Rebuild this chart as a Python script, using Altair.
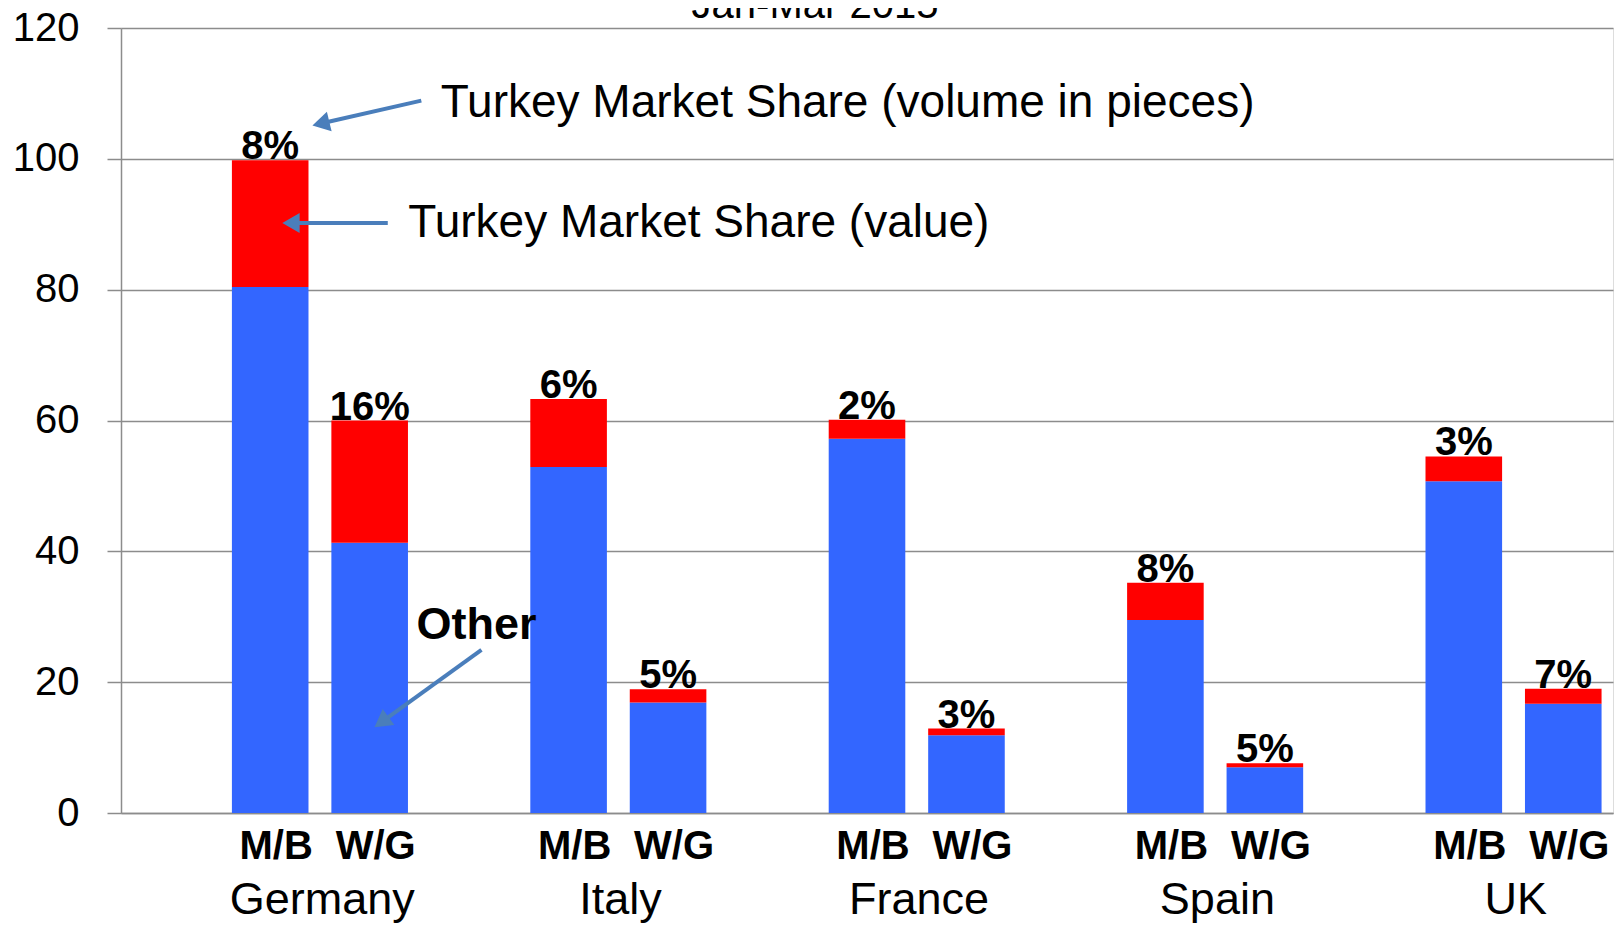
import altair as alt
import pandas as pd

# ---------------- data ----------------
countries = ["Germany", "Italy", "France", "Spain", "UK"]
products = ["M/B", "W/G"]
# stacked segments (order: Germany M/B, Germany W/G, Italy M/B, ...)
other_vals = [80.4, 41.3, 52.9, 16.9, 57.2, 11.9, 29.5, 7.0, 50.7, 16.7]
turkey_vals = [19.4, 18.7, 10.4, 2.0, 2.9, 1.0, 5.7, 0.6, 3.8, 2.3]
pct_labels = ["8%", "16%", "6%", "5%", "2%", "3%", "8%", "5%", "3%", "7%"]
y_ticks = [0, 20, 40, 60, 80, 100, 120]
title_text = "Jan-Mar 2015"

# annotations (x in category-slot units 0..15, y in axis units)
note_texts = ["Turkey Market Share (volume in pieces)", "Turkey Market Share (value)"]
note_x = [3.214, 2.888]
note_y = [106.4, 88.1]
other_text = "Other"
other_x = [2.972]
other_y = [26.6]
arrow_x = [3.019, 2.682, 3.624]
arrow_y = [108.9, 90.2, 24.95]
arrow_hx = [2.009, 1.709, 2.619]
arrow_hy = [105.4, 90.2, 13.9]
arrow_angle = [256.4, 270, 234.2]

FONT = "Liberation Sans"
BLUE = "#3366FF"
RED = "#FF0000"
ARROW = "#4A7EBB"
GRID = "#8C8C8C"

# ---------------- tables ----------------
slots = []
for c in countries:
    slots += [c + "|", c + "|M/B", c + "|W/G"]

bar_rows, pct_rows = [], []
for i, c in enumerate(countries):
    for j, p in enumerate(products):
        k = 2 * i + j
        s = f"{c}|{p}"
        bar_rows.append({"slot": s, "segment": "Other", "value": other_vals[k], "ord": 0})
        bar_rows.append({"slot": s, "segment": "Turkey", "value": turkey_vals[k], "ord": 1})
        pct_rows.append({"slot": s, "total": other_vals[k] + turkey_vals[k], "label": pct_labels[k]})
bars_df = pd.DataFrame(bar_rows)
pct_df = pd.DataFrame(pct_rows)
country_df = pd.DataFrame({"slot": [c + "|M/B" for c in countries], "name": countries, "y": [-15.5] * 5})

notes_df = pd.DataFrame({"text": note_texts, "x": note_x, "y": note_y})
other_df = pd.DataFrame({"text": [other_text], "x": other_x, "y": other_y})
title_df = pd.DataFrame({"text": [title_text], "x": [6.977], "y": [121.5]})
arrows_df = pd.DataFrame({"x": arrow_x, "y": arrow_y, "x2": arrow_hx, "y2": arrow_hy, "angle": arrow_angle})

yscale = alt.Scale(domain=[0, 120], nice=False, zero=True)
xband = alt.Scale(domain=slots, paddingInner=0.23, paddingOuter=0.115)
xq = alt.Scale(domain=[0, 15], nice=False, zero=False)

x_axis = alt.Axis(
    title=None, labelExpr="split(datum.label, '|')[1]", labelFont=FONT, labelFontSize=40,
    labelFontWeight="bold", labelColor="black", ticks=False, domain=True, domainColor=GRID,
    domainWidth=1.5, labelPadding=13, labelAngle=0, labelOverlap=False, labelOffset=6,
)
y_axis = alt.Axis(
    title=None, values=y_ticks, grid=True, gridColor=GRID, gridWidth=1.5, domain=True,
    domainColor=GRID, domainWidth=1.5, ticks=True, tickSize=14, tickColor=GRID, tickWidth=1.5,
    labelFont=FONT, labelFontSize=40, labelColor="black", labelPadding=28,
)


def Yq(field):
    return alt.Y(field, scale=yscale, axis=y_axis)


def Xb():
    return alt.X("slot:N", scale=xband, sort=slots, axis=x_axis)


def Xq(field):
    return alt.X(field, scale=xq, axis=None)


bars = alt.Chart(bars_df).mark_bar().encode(
    x=Xb(),
    y=alt.Y("value:Q", stack="zero", scale=yscale, axis=y_axis),
    color=alt.Color("segment:N", scale=alt.Scale(domain=["Other", "Turkey"], range=[BLUE, RED]), legend=None),
    order=alt.Order("ord:Q"),
)
pct = alt.Chart(pct_df).mark_text(font=FONT, fontSize=40, fontWeight="bold", baseline="alphabetic", dy=-1, color="black").encode(
    x=Xb(), y=Yq("total:Q"), text="label:N",
)
country_txt = alt.Chart(country_df).mark_text(font=FONT, fontSize=45, baseline="alphabetic", dx=52, color="black").encode(
    x=Xb(), y=Yq("y:Q"), text="name:N",
)
base = alt.layer(bars, pct, country_txt)

notes = alt.Chart(notes_df).mark_text(font=FONT, fontSize=46, align="left", baseline="alphabetic", color="black").encode(
    x=Xq("x:Q"), y=Yq("y:Q"), text="text:N")
other = alt.Chart(other_df).mark_text(font=FONT, fontSize=45, fontWeight="bold", align="left", baseline="alphabetic", color="black").encode(
    x=Xq("x:Q"), y=Yq("y:Q"), text="text:N")
title = alt.Chart(title_df).mark_text(font=FONT, fontSize=40, align="center", baseline="alphabetic", color="black").encode(
    x=Xq("x:Q"), y=Yq("y:Q"), text="text:N")
arrow_lines = alt.Chart(arrows_df).mark_rule(color=ARROW, strokeWidth=4).encode(
    x=Xq("x:Q"), y=Yq("y:Q"), x2="x2:Q", y2="y2:Q")
arrow_heads = alt.Chart(arrows_df).mark_point(shape="triangle-up", filled=True, size=400, color=ARROW, opacity=1).encode(
    x=Xq("x2:Q"), y=Yq("y2:Q"),
    angle=alt.Angle("angle:Q", scale=None))
ann = alt.layer(arrow_lines, arrow_heads, notes, other, title)

chart = alt.layer(base, ann).resolve_scale(x="independent").properties(
    width=1492, height=785,
    padding={"left": 113, "top": 20, "right": 3, "bottom": 112},
    autosize=alt.AutoSizeParams(type="none"),
    background="white",
).configure_view(stroke=None).configure(font=FONT)

chart.save("out.html", embed_options={"renderer": "svg", "actions": False})
